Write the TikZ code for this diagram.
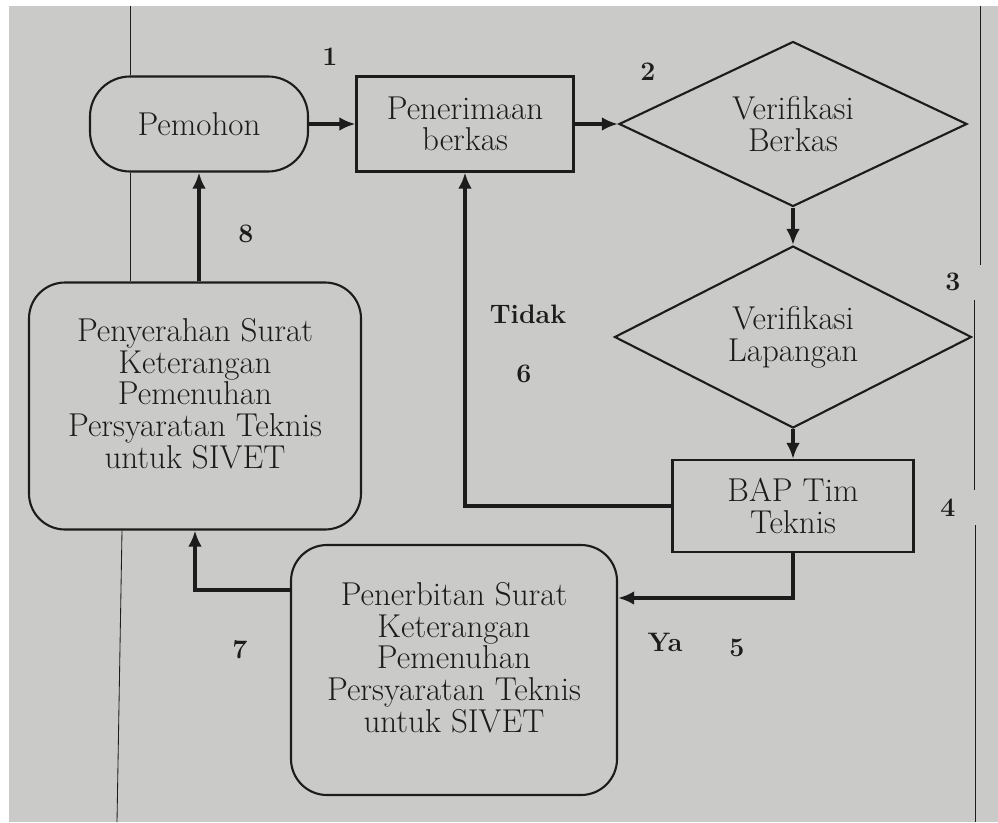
\documentclass[tikz,border=0pt]{standalone}
\usepackage{tikz}
\usetikzlibrary{shapes.geometric, arrows.meta, positioning}
\definecolor{paper}{RGB}{202,202,200}
\definecolor{ink}{RGB}{28,28,28}

\begin{document}
\begin{tikzpicture}[
    node distance=2cm,
    every node/.style={font=\fontsize{23.5}{22.5}\selectfont, text=ink, align=center},
    >={Latex[length=4mm,width=3.4mm]},
    arrow/.style={->, draw=ink, line width=2.6pt},
    lane/.style={draw=ink, line width=0.6pt},
    num/.style={font=\fontsize{19}{20}\selectfont\bfseries},
    terminal/.style={rectangle, rounded corners=1cm, draw=ink, line width=1.5pt, minimum width=5.45cm, minimum height=2.375cm},
    process/.style={rectangle, draw=ink, line width=1.5pt},
    decision/.style={diamond, aspect=2, inner sep=0pt, draw=ink, line width=1.5pt},
    softbox/.style={rectangle, rounded corners=0.9cm, draw=ink, line width=1.5pt}
]
% Paper
\useasboundingbox (0,0) rectangle (24.95,-20.55);
\fill [white] (0,0) rectangle (24.95,-20.55);
\fill [paper] (0.225,-0.15) rectangle (24.95,-20.55);

% Nodes
\node (pemohon) [terminal] at (4.975,-3.1) {Pemohon};
\node (terima) [process, right of=pemohon, xshift=4.65cm, minimum width=5.425cm, minimum height=2.375cm] {Penerimaan\\berkas};
\node (verBerkas) [decision, right of=terima, xshift=6.2cm, minimum width=8.7cm, minimum height=4.125cm] {Verifikasi\\Berkas};
\node (verLap) [decision, below of=verBerkas, yshift=-3.325cm, minimum width=8.925cm, minimum height=4.55cm] {Verifikasi\\Lapangan};
\node (bap) [process, below of=verLap, yshift=-2.225cm, minimum width=6.025cm, minimum height=2.3cm] {BAP Tim\\Teknis};
\node (terbit) [softbox, below of=bap, xshift=-8.475cm, yshift=-2.1cm, minimum width=8.15cm, minimum height=6.25cm] {Penerbitan Surat\\Keterangan\\Pemenuhan\\Persyaratan Teknis\\untuk SIVET\\[-0.15cm]};
\node (serah) [softbox, below of=pemohon, xshift=-0.1cm, yshift=-5.05cm, minimum width=8.3cm, minimum height=6.175cm] {Penyerahan Surat\\Keterangan\\Pemenuhan\\Persyaratan Teknis\\untuk SIVET\\[-0.15cm]};

% Step numbers
\node (lblOne) [num] at (8.25,-1.425) {1};
\node (lblTwo) [num] at (16.2,-1.8) {2};
\node (lblThree) [num] at (23.825,-7.05) {3};
\node (lblFour) [num] at (23.7,-12.7) {4};
\node (lblFive) [num] at (18.425,-16.2) {5};
\node (lblYa) [num] at (16.625,-16.05) {Ya};
\node (lblTidak) [num] at (13.2,-7.85) {Tidak};
\node (lblSix) [num] at (13.1,-9.35) {6};
\node (lblSeven) [num] at (6.0,-16.25) {7};
\node (lblEight) [num] at (6.15,-5.85) {8};

% Lane lines
\coordinate (laneL) at (3.25,-0.15);
\coordinate (laneLb) at (3.05,-0.15);
\coordinate (laneLend) at (2.925,-20.55);
\draw [lane] (laneL) -- (laneL |- pemohon.north);
\draw [lane] (pemohon.south -| laneL) -- (serah.north -| laneL);
\draw [lane] (serah.south -| laneLb) -- (laneLend);
\coordinate (laneRa) at (24.5,-0.15);
\coordinate (laneRb) at (24.5,-6.625);
\coordinate (laneRc) at (24.35,-7.5);
\coordinate (laneRd) at (24.35,-12.25);
\coordinate (laneRe) at (24.375,-13.125);
\coordinate (laneRf) at (24.375,-20.55);
\draw [lane] (laneRa) -- (laneRb);
\draw [lane] (laneRc) -- (laneRd);
\draw [lane] (laneRe) -- (laneRf);

% Arrows
\draw [arrow] (pemohon) -- (terima);
\draw [arrow] (terima) -- (verBerkas);
\draw [arrow] (verBerkas) -- (verLap);
\draw [arrow] (verLap) -- (bap);
\draw [arrow] (bap.south) |- ([yshift=1.8cm]terbit.east);
\draw [arrow] (bap.west) -| (terima.south);
\draw [arrow] ([yshift=2cm]terbit.west) -| (serah.south);
\draw [arrow] (serah.north -| pemohon.south) -- (pemohon.south);
\end{tikzpicture}
\end{document}
